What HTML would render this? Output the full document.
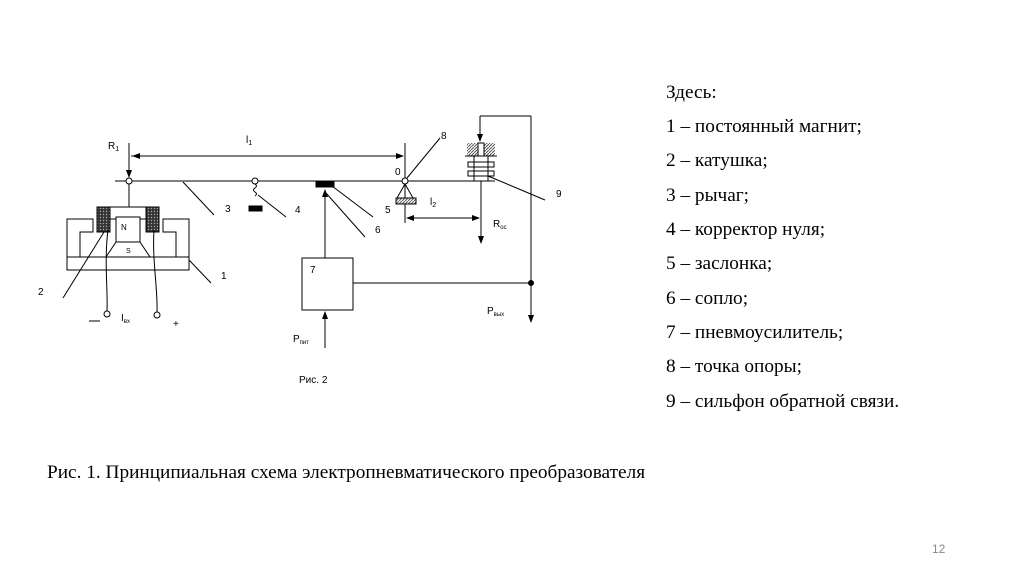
<!DOCTYPE html>
<html><head><meta charset="utf-8"><style>
body{margin:0;width:1024px;height:574px;background:#fff;overflow:hidden;position:relative}
.t{position:absolute;font-family:"Liberation Serif","Noto Serif CJK SC",serif;font-size:19.3px;color:#000;white-space:nowrap}
</style></head><body>
<svg width="1024" height="574" style="position:absolute;left:0;top:0" font-family="Liberation Sans, sans-serif" font-size="10">
<defs>
<marker id="a" markerWidth="8" markerHeight="8" refX="7" refY="4" orient="auto" markerUnits="userSpaceOnUse"><path d="M0,1 L8,4 L0,7 Z" fill="#000"/></marker>
<pattern id="h" width="3" height="3" patternUnits="userSpaceOnUse"><rect width="3" height="3" fill="#fff"/><path d="M0,3 L3,0" stroke="#555" stroke-width="1"/></pattern>
<pattern id="d" width="3" height="3" patternUnits="userSpaceOnUse"><rect width="3" height="3" fill="#333"/><circle cx="1.5" cy="1.5" r="0.7" fill="#aaa"/></pattern>
</defs>
<g stroke="#000" stroke-width="1" fill="none">
<line x1="115" y1="181" x2="495" y2="181"/>
<line x1="129" y1="143" x2="129" y2="177" marker-end="url(#a)"/>
<line x1="131" y1="156" x2="403" y2="156" marker-end="url(#a)"/>
<line x1="403" y1="156" x2="133" y2="156" marker-end="url(#a)"/>
<line x1="405" y1="143" x2="405" y2="223"/>
<circle cx="129" cy="181" r="3" fill="#fff"/>
<line x1="129" y1="184" x2="129" y2="207"/>
<rect x="97" y="207" width="61" height="12"/>
<rect x="97" y="207" width="13" height="25" fill="url(#d)"/>
<rect x="146" y="207" width="13" height="25" fill="url(#d)"/>
<rect x="116" y="217" width="24" height="25" fill="#fff"/>
<path d="M116,242 L106,257 L150,257 L140,242"/>
<path d="M67,270 L67,219 L93,219 L93,232 L80,232 L80,257"/>
<path d="M189,270 L189,219 L163,219 L163,232 L176,232 L176,257"/>
<rect x="67" y="257" width="122" height="13"/>
<path d="M108,230 C104,260 108,290 107,311"/>
<circle cx="107" cy="314" r="3" fill="#fff"/>
<path d="M154,230 C152,260 158,290 157,312"/>
<circle cx="157" cy="315" r="3" fill="#fff"/>
<line x1="89" y1="321" x2="100" y2="321"/>
<line x1="104" y1="232" x2="63" y2="298"/>
<line x1="189" y1="260" x2="211" y2="283"/>
<line x1="183" y1="182" x2="214" y2="215"/>
<circle cx="255" cy="181" r="3" fill="#fff"/>
<path d="M255,184 q3,2 0,4 q-3,2 0,4 q3,2 0,4"/>
<rect x="249" y="206" width="13" height="5" fill="#000"/>
<line x1="258" y1="195" x2="286" y2="217"/>
<rect x="316" y="181" width="18" height="6" fill="#000"/>
<line x1="325" y1="258" x2="325" y2="190" marker-end="url(#a)"/>
<line x1="332" y1="186" x2="373" y2="217"/>
<line x1="326" y1="193" x2="365" y2="237"/>
<rect x="302" y="258" width="51" height="52"/>
<line x1="325" y1="348" x2="325" y2="312" marker-end="url(#a)"/>
<line x1="353" y1="283" x2="531" y2="283"/>
<circle cx="531" cy="283" r="2.5" fill="#000"/>
<line x1="531" y1="116" x2="531" y2="322" marker-end="url(#a)"/>
<line x1="531" y1="116" x2="480" y2="116"/>
<line x1="480" y1="116" x2="480" y2="141" marker-end="url(#a)"/>
<rect x="467" y="143" width="28" height="13" fill="url(#h)" stroke="none"/>
<line x1="465" y1="156" x2="497" y2="156"/>
<rect x="478" y="143" width="6" height="13" fill="#fff"/>
<rect x="468" y="162" width="26" height="5" fill="#fff"/>
<rect x="468" y="171" width="26" height="5" fill="#fff"/>
<rect x="474" y="156" width="14" height="25" fill="none"/>
<line x1="481" y1="181" x2="481" y2="243" marker-end="url(#a)"/>
<line x1="488" y1="176" x2="545" y2="200"/>
<path d="M405,184 L397,198 M405,184 L413,198"/>
<rect x="396" y="198" width="20" height="6" fill="url(#h)"/>
<circle cx="405" cy="181" r="3" fill="#fff"/>
<line x1="407" y1="178" x2="440" y2="138"/>
<line x1="407" y1="218" x2="479" y2="218" marker-end="url(#a)"/>
<line x1="479" y1="218" x2="407" y2="218" marker-end="url(#a)"/>
</g>
<g fill="#000" font-size="10">
<text x="108" y="149">R<tspan font-size="7" dy="2">1</tspan></text>
<text x="246" y="143">l<tspan font-size="7" dy="2">1</tspan></text>
<text x="225" y="212">3</text>
<text x="295" y="213">4</text>
<text x="221" y="279">1</text>
<text x="38" y="295">2</text>
<text x="121" y="321">I<tspan font-size="6" dy="2">вх</tspan></text>
<text x="173" y="327">+</text>
<text x="121" y="230" font-size="8">N</text>
<text x="126" y="253" font-size="7">S</text>
<text x="385" y="213">5</text>
<text x="375" y="233">6</text>
<text x="310" y="273">7</text>
<text x="395" y="175">0</text>
<text x="441" y="139">8</text>
<text x="556" y="197">9</text>
<text x="430" y="205">l<tspan font-size="7" dy="2">2</tspan></text>
<text x="493" y="227">R<tspan font-size="6" dy="2">ос</tspan></text>
<text x="487" y="314">P<tspan font-size="6" dy="2">вых</tspan></text>
<text x="293" y="342">P<tspan font-size="6" dy="2">пит</tspan></text>
<text x="299" y="383">Рис. 2</text>
</g>
</svg>
<div class="t" style="left:666px;top:82px">Здесь:</div>
<div class="t" style="left:666px;top:116px">1 – постоянный магнит;</div>
<div class="t" style="left:666px;top:150px">2 – катушка;</div>
<div class="t" style="left:666px;top:185px">3 – рычаг;</div>
<div class="t" style="left:666px;top:219px">4 – корректор нуля;</div>
<div class="t" style="left:666px;top:253px">5 – заслонка;</div>
<div class="t" style="left:666px;top:288px">6 – сопло;</div>
<div class="t" style="left:666px;top:322px">7 – пневмоусилитель;</div>
<div class="t" style="left:666px;top:356px">8 – точка опоры;</div>
<div class="t" style="left:666px;top:391px">9 – сильфон обратной связи.</div>
<div class="t" style="left:47px;top:462px">Рис. 1. Принципиальная схема электропневматического преобразователя</div>
<div class="t" style="left:932px;top:542px;font-size:12px;color:#888;font-family:'Liberation Sans',sans-serif">12</div>
</body></html>
